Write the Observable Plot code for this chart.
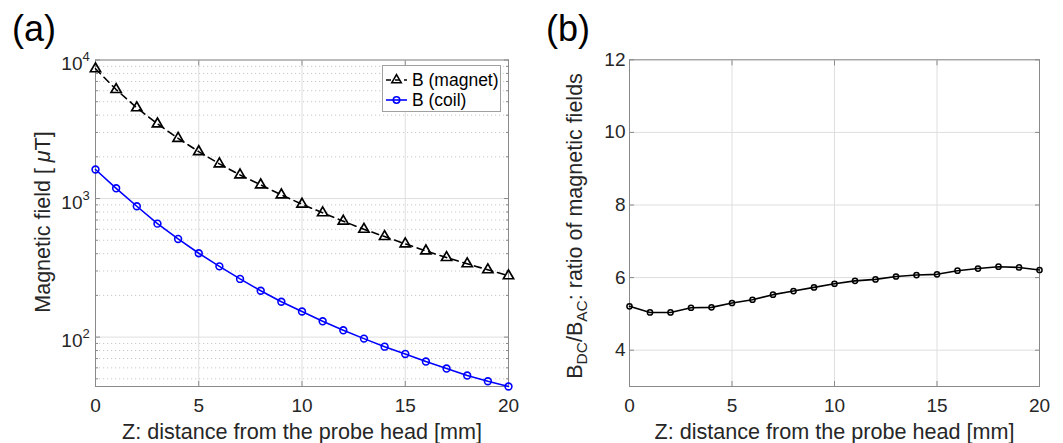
<!DOCTYPE html>
<html><head><meta charset="utf-8">
<script src="https://cdn.jsdelivr.net/npm/d3@7"></script>
<script src="https://cdn.jsdelivr.net/npm/@observablehq/plot@0.6"></script>
<style>
body{margin:0;background:#fff;}
#wrap{position:relative;width:1063px;height:443px;overflow:hidden;background:#fff;font-family:"Liberation Sans",Arial,Helvetica,sans-serif;color:#262626;}
.panel{position:absolute;top:0;}
.tag{position:absolute;font-size:36px;line-height:36px;color:#000;}
.legend{position:absolute;left:382px;top:65px;width:117px;height:45px;border:1px solid #a0a0a0;background:#fff;}
.legend .row{position:absolute;left:0;height:22px;font-size:17.5px;line-height:22px;}
.legend svg{position:absolute;left:2px;top:0;}
.legend span{position:absolute;left:29px;top:0;white-space:nowrap;color:#000;}
</style></head><body><div id="wrap"></div>
<script>
// ---- data ----
const zMM = [0,1,2,3,4,5,6,7,8,9,10,11,12,13,14,15,16,17,18,19,20];
const bMagnet = [8640,6120,4520,3460,2720,2180,1780,1480,1255,1063,910,789,686,600,532,471,419,375,338,306,277];
const bCoil = [1620,1186,880,659,511,403,324,263,216,180,153,130,112,97.5,85.3,75.6,66.6,59.3,52.8,48.0,44.0];
const ratio = [5.21,5.04,5.04,5.17,5.18,5.30,5.39,5.53,5.63,5.73,5.83,5.91,5.95,6.03,6.07,6.09,6.19,6.25,6.30,6.28,6.21];
const xTicks = [0,5,10,15,20];
const yDecades = [100,1000,10000];
const yDecadeExp = ["2","3","4"];
const ratioTicks = [4,6,8,10,12];
const seriesNames = ["B (magnet)","B (coil)"];
const xLabel = "Z: distance from the probe head [mm]";

const font = '"Liberation Sans", Arial, Helvetica, sans-serif';
const ink = "#262626";
const frameC = "#8a8a8a";
const gridC = "#dedede";
const minorTicks = [];
for (const d of [10,100,1000]) for (let k=2;k<=9;k++) { const v=d*k; if (v>=44 && v<10000) minorTicks.push(v); }

const magnetRows = zMM.map((z,i)=>({z, b:bMagnet[i]}));
const coilRows = zMM.map((z,i)=>({z, b:bCoil[i]}));
const ratioRows = zMM.map((z,i)=>({z, r:ratio[i]}));

const wrap = document.getElementById("wrap");

// ---- left panel ----
const left = Plot.plot({
  width:530, height:443, marginLeft:95, marginRight:22, marginTop:59.5, marginBottom:57,
  style:{fontFamily:font, fontSize:"19px", color:ink, background:"white", overflow:"visible"},
  x:{domain:[0,20]},
  y:{type:"log", domain:[44,10000]},
  marks:[
    Plot.gridY(minorTicks,{stroke:"#c8c8c8", strokeOpacity:1, strokeDasharray:"1.2,2.8"}),
    Plot.gridX(xTicks,{stroke:gridC, strokeOpacity:1}),
    Plot.gridY(yDecades,{stroke:gridC, strokeOpacity:1}),
    Plot.frame({stroke:frameC}),
    Plot.axisX(xTicks,{anchor:"bottom", tickSize:-5, tickPadding:17, label:null, stroke:frameC, fill:ink}),
    Plot.axisX(xTicks,{anchor:"top", tickSize:-5, tickFormat:()=>"", label:null, stroke:frameC}),
    Plot.axisY(yDecades,{anchor:"left", tickSize:-5, tickFormat:()=>"", label:null, stroke:frameC}),
    Plot.axisY(yDecades,{anchor:"right", tickSize:-5, tickFormat:()=>"", label:null, stroke:frameC}),
    Plot.axisY(minorTicks,{anchor:"left", tickSize:-3, tickFormat:()=>"", label:null, stroke:frameC}),
    Plot.axisY(minorTicks,{anchor:"right", tickSize:-3, tickFormat:()=>"", label:null, stroke:frameC}),
    Plot.text(yDecades,{y:d=>d, frameAnchor:"left", text:()=>"10", textAnchor:"end", dx:-13, dy:4, fontSize:19, fill:ink}),
    Plot.text(yDecades,{y:d=>d, frameAnchor:"left", text:(d,i)=>yDecadeExp[i], textAnchor:"start", dx:-13, dy:-3, fontSize:13, fill:ink}),
    Plot.text([xLabel],{frameAnchor:"bottom", text:d=>d, dy:52, lineAnchor:"bottom", fontSize:21.6, fill:ink}),
    Plot.line(magnetRows,{x:"z", y:"b", stroke:"black", strokeWidth:1.6, strokeDasharray:"7,5"}),
    Plot.dot(magnetRows,{x:"z", y:"b", symbol:"triangle", r:3.8, stroke:"black", fill:"none", strokeWidth:1.7}),
    Plot.line(coilRows,{x:"z", y:"b", stroke:"#0000ff", strokeWidth:1.6}),
    Plot.dot(coilRows,{x:"z", y:"b", symbol:"circle", r:3.4, stroke:"#0000ff", fill:"none", strokeWidth:1.6})
  ]
});
left.classList.add("panel"); left.style.left="0px";
d3.select(left).append("text")
  .attr("transform","translate(50,222) rotate(-90)")
  .attr("text-anchor","middle").attr("font-size",21.5).attr("fill",ink)
  .call(t=>{ t.append("tspan").text("Magnetic field [ "); t.append("tspan").attr("font-style","italic").text("μ"); t.append("tspan").text("T]"); });
wrap.appendChild(left);

// ---- right panel ----
const right = Plot.plot({
  width:533, height:443, marginLeft:99, marginRight:24, marginTop:59.3, marginBottom:57,
  style:{fontFamily:font, fontSize:"19px", color:ink, background:"white", overflow:"visible"},
  x:{domain:[0,20]},
  y:{domain:[3,12]},
  marks:[
    Plot.gridX(xTicks,{stroke:gridC, strokeOpacity:1}),
    Plot.gridY(ratioTicks,{stroke:gridC, strokeOpacity:1}),
    Plot.frame({stroke:frameC}),
    Plot.axisX(xTicks,{anchor:"bottom", tickSize:-5, tickPadding:17, label:null, stroke:frameC, fill:ink}),
    Plot.axisX(xTicks,{anchor:"top", tickSize:-5, tickFormat:()=>"", label:null, stroke:frameC}),
    Plot.axisY(ratioTicks,{anchor:"left", tickSize:-5, tickPadding:9, label:null, stroke:frameC, fill:ink}),
    Plot.axisY(ratioTicks,{anchor:"right", tickSize:-5, tickFormat:()=>"", label:null, stroke:frameC}),
    Plot.text([xLabel],{frameAnchor:"bottom", text:d=>d, dy:52, lineAnchor:"bottom", fontSize:21.6, fill:ink}),
    Plot.line(ratioRows,{x:"z", y:"r", stroke:"black", strokeWidth:1.6}),
    Plot.dot(ratioRows,{x:"z", y:"r", symbol:"circle", r:2.6, stroke:"black", fill:"none", strokeWidth:1.5})
  ]
});
right.classList.add("panel"); right.style.left="530px";
d3.select(right).append("text")
  .attr("transform","translate(52,226) rotate(-90)")
  .attr("text-anchor","middle").attr("font-size",21.5).attr("fill",ink)
  .call(t=>{
    t.append("tspan").text("B");
    t.append("tspan").attr("font-size",15.5).attr("dy",5).text("DC");
    t.append("tspan").attr("dy",-5).text("/B");
    t.append("tspan").attr("font-size",15.5).attr("dy",5).text("AC");
    t.append("tspan").attr("dy",-5).text(": ratio of magnetic fields");
  });
wrap.appendChild(right);

// ---- panel tags ----
for (const [txt,x] of [["(a)",12],["(b)",546]]) {
  const d = document.createElement("div"); d.className="tag"; d.textContent=txt;
  d.style.left=x+"px"; d.style.top="11px"; wrap.appendChild(d);
}

// ---- legend ----
const leg = document.createElement("div"); leg.className="legend";
leg.innerHTML = `
<div class="row" style="top:3px;width:117px">
  <svg width="26" height="22"><line x1="1" y1="11" x2="22" y2="11" stroke="black" stroke-width="1.6" stroke-dasharray="5,4"/>
  <path d="${d3.symbol(d3.symbolTriangle, 38)()}" transform="translate(11.5,11)" fill="none" stroke="black" stroke-width="1.6"/></svg>
  <span>${seriesNames[0]}</span></div>
<div class="row" style="top:23px;width:117px">
  <svg width="26" height="22"><line x1="1" y1="11" x2="22" y2="11" stroke="#0000ff" stroke-width="1.6"/>
  <circle cx="11.5" cy="11" r="3.2" fill="none" stroke="#0000ff" stroke-width="1.6"/></svg>
  <span>${seriesNames[1]}</span></div>`;
wrap.appendChild(leg);
</script></body></html>
